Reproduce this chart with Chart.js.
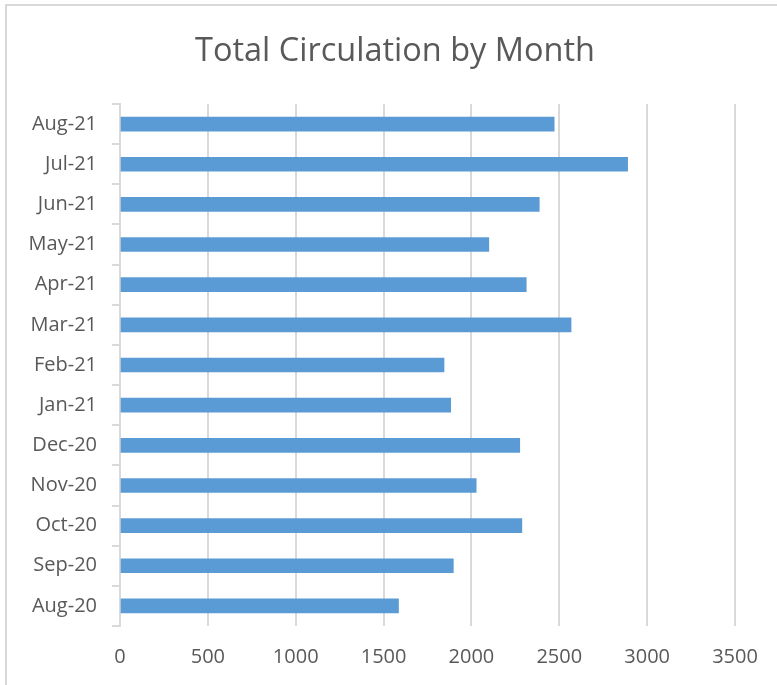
<!DOCTYPE html>
<html>
<head>
<meta charset="utf-8">
<script src="https://cdn.jsdelivr.net/npm/chart.js@4"></script>
<style>
	html, body { margin: 0; padding: 0; background: #fff; overflow: hidden; }
	.frame { position: absolute; left: 5px; top: 4px; width: 800px; height: 720px; border: 2px solid #d9d9d9; box-sizing: border-box; }
	.wrap { position: absolute; left: 0; top: 0; width: 777px; height: 685px; }
</style>
</head>
<body>
<div class="frame"></div>
<div class="wrap"><canvas id="circChart"></canvas></div>
<script>
// Data (chronological, bottom to top)
const months = ['Aug-20', 'Sep-20', 'Oct-20', 'Nov-20', 'Dec-20', 'Jan-21', 'Feb-21',
	'Mar-21', 'Apr-21', 'May-21', 'Jun-21', 'Jul-21', 'Aug-21'];
const circulation = [1585, 1897, 2287, 2027, 2275, 1882, 1844, 2567, 2312, 2099, 2386, 2889, 2471];
const xTicks = [0, 500, 1000, 1500, 2000, 2500, 3000, 3500];

const textColor = '#595959';
const gridColor = '#d9d9d9';

// nudge the title so it is centred like the original (over the whole frame)
const titleShift = {
	id: 'titleShift',
	afterLayout: function(chart) {
		if (chart.titleBlock) {
			chart.titleBlock.left = 55;
		}
	}
};

document.addEventListener('DOMContentLoaded', function() {
	const ctx = document.getElementById('circChart');

	new Chart(ctx, {
		type: 'bar',
		data: {
			labels: months,
			datasets: [{
				label: 'Total Circulation',
				data: circulation,
				backgroundColor: '#5b9bd5',
				borderWidth: 0,
				barThickness: 14
			}]
		},
		options: {
			indexAxis: 'y',
			responsive: true,
			maintainAspectRatio: false,
			animation: false,
			layout: {
				padding: { left: 0, right: 42, top: 0, bottom: 0 }
			},
			plugins: {
				legend: { display: false },
				tooltip: { enabled: false },
				title: {
					display: true,
					text: 'Total Circulation by Month',
					color: textColor,
					font: { family: 'Open Sans', size: 32.5, weight: 'normal' },
					padding: { top: 32, bottom: 33 }
				}
			},
			scales: {
				x: {
					min: 0,
					max: 3500,
					afterFit: function(scale) { scale.height = 59; },
					afterBuildTicks: function(scale) {
						scale.ticks = xTicks.map(v => ({ value: v }));
					},
					grid: {
						color: gridColor,
						lineWidth: 2,
						drawTicks: false
					},
					border: { display: false },
					ticks: {
						color: textColor,
						padding: 19,
						font: { family: 'Open Sans', size: 20 },
						callback: function(value) { return String(value); }
					}
				},
				y: {
					reverse: true,
					afterFit: function(scale) { scale.width = 120; },
					grid: {
						offset: true,
						drawOnChartArea: false,
						drawTicks: true,
						tickLength: 8,
						color: gridColor,
						lineWidth: 2
					},
					border: { display: true, color: gridColor, width: 2 },
					ticks: {
						color: textColor,
						padding: 15,
						font: { family: 'Open Sans', size: 20 }
					}
				}
			}
		},
		plugins: [titleShift]
	});
});
</script>
</body>
</html>
